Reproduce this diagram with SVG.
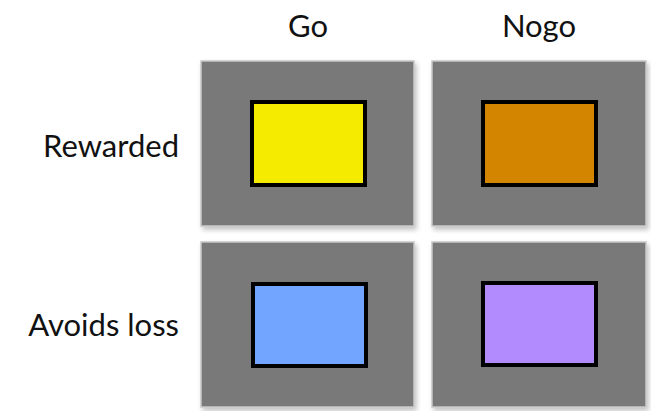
<svg xmlns="http://www.w3.org/2000/svg" width="651" height="411" viewBox="0 0 651 411">
<defs>
<filter id="sh" x="-10%" y="-10%" width="125%" height="125%">
<feGaussianBlur in="SourceAlpha" stdDeviation="2.5"/>
<feOffset dx="2" dy="3" result="b"/>
<feComponentTransfer><feFuncA type="linear" slope="0.25"/></feComponentTransfer>
<feMerge><feMergeNode/><feMergeNode in="SourceGraphic"/></feMerge>
</filter>
</defs>
<style>
.lbl{font-family:Lato,"Open Sans","Liberation Sans",sans-serif;font-size:31px;fill:#111}
.panel{fill:#797979;stroke:#c8c8c8;stroke-width:1.5}
.stim{stroke:#000;stroke-width:4}
</style>
<rect width="651" height="411" fill="#fff"/>
<g id="headers">
<text class="lbl" x="308" y="37" text-anchor="middle">Go</text>
<text class="lbl" x="539" y="37" text-anchor="middle">Nogo</text>
</g>
<g id="rowlabels">
<text class="lbl" x="179" y="157" text-anchor="end">Rewarded</text>
<text class="lbl" x="179" y="336" text-anchor="end">Avoids loss</text>
</g>
<g id="go-rewarded" filter="url(#sh)">
<rect class="panel" x="201" y="61" width="213" height="165"/>
<rect class="stim" x="252" y="102" width="113" height="83" fill="#f5eb00"/>
</g>
<g id="nogo-rewarded" filter="url(#sh)">
<rect class="panel" x="432" y="61" width="214" height="165"/>
<rect class="stim" x="483" y="102" width="113" height="83" fill="#d48500"/>
</g>
<g id="go-avoidsloss" filter="url(#sh)">
<rect class="panel" x="201" y="242" width="213" height="165"/>
<rect class="stim" x="253" y="284" width="113" height="82" fill="#72a5ff"/>
</g>
<g id="nogo-avoidsloss" filter="url(#sh)">
<rect class="panel" x="432" y="242" width="214" height="165"/>
<rect class="stim" x="483" y="283" width="113" height="82" fill="#b28bff"/>
</g>
<g id="connectors"></g>
</svg>
